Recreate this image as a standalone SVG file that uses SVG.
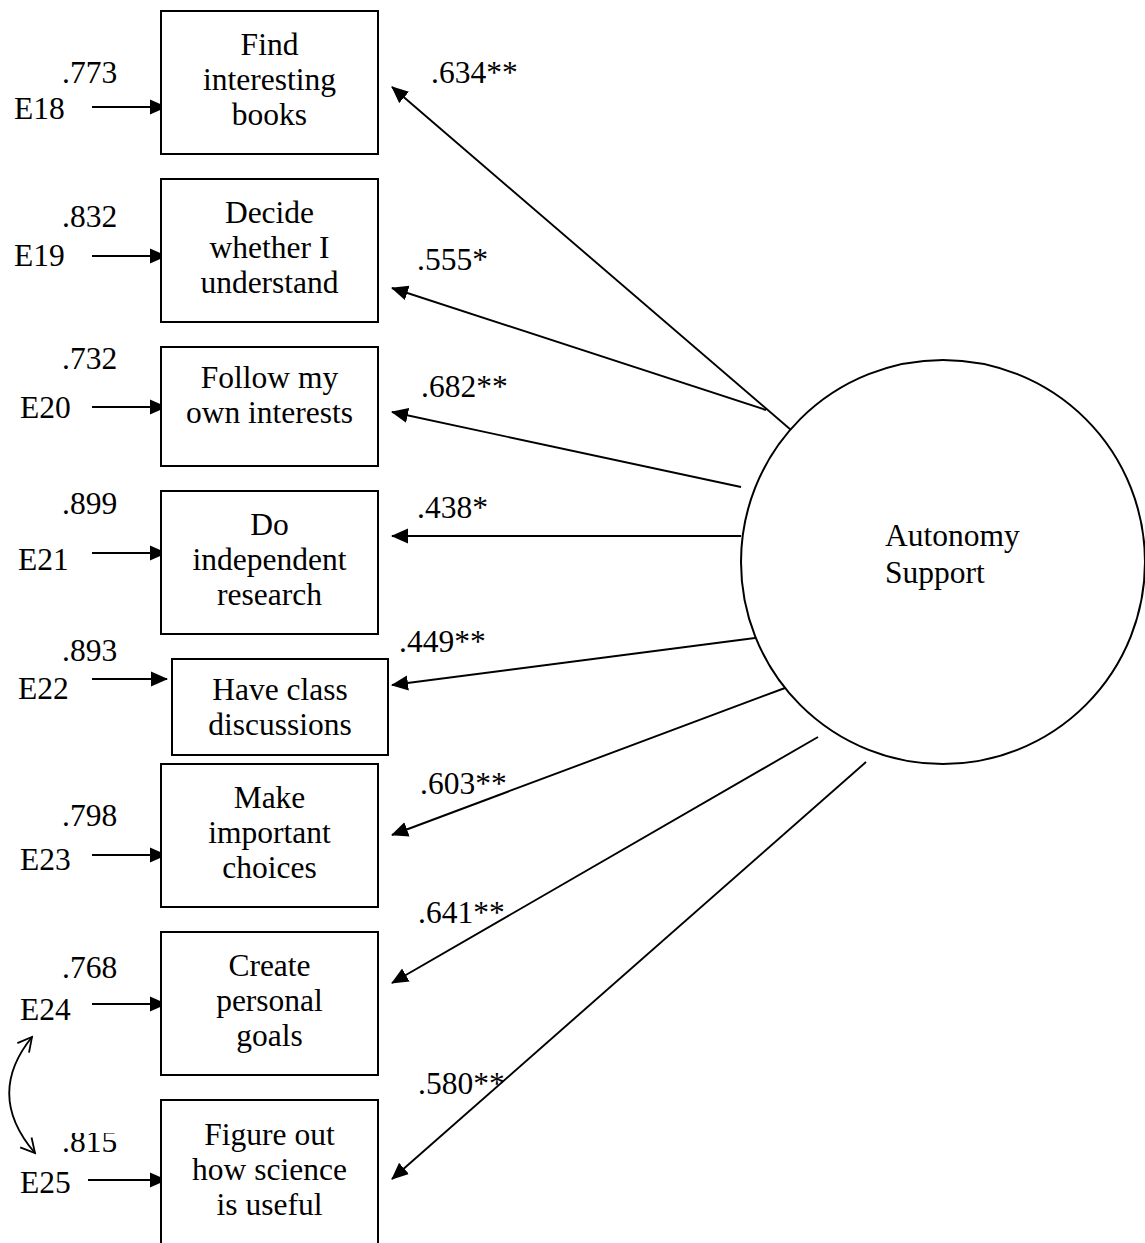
<svg xmlns="http://www.w3.org/2000/svg" width="1145" height="1243" viewBox="0 0 1145 1243">
  <style>
    text { font-family: "Liberation Serif", "Times New Roman", serif; font-size: 31.5px; fill: #000; }
    .mid { text-anchor: middle; }
    .box { fill: #fff; stroke: #000; stroke-width: 2; }
    .link { stroke: #000; stroke-width: 1.9; fill: none; marker-end: url(#head); }
    .cov { stroke: #000; stroke-width: 1.8; fill: none; marker-start: url(#open); marker-end: url(#open); }
    .latent { fill: #fff; stroke: #000; stroke-width: 2; }
  </style>
  <defs>
    <marker id="head" markerUnits="userSpaceOnUse" viewBox="0 -8 17 16" refX="16" refY="0" markerWidth="17" markerHeight="16" orient="auto">
      <path d="M0,-7.5 L17,0 L0,7.5 Z" fill="#000"/>
    </marker>
    <marker id="open" markerUnits="userSpaceOnUse" viewBox="-15 -9 17 18" refX="0" refY="0" markerWidth="17" markerHeight="18" orient="auto-start-reverse">
      <path d="M-14,-7.5 L0,0 L-14,7.5" fill="none" stroke="#000" stroke-width="1.8"/>
    </marker>
    <clipPath id="clip815">
      <rect x="50" y="1133" width="80" height="30"/>
    </clipPath>
  </defs>

  <!-- connectors: error terms, loadings, covariance -->
  <g id="connectors">
    <line class="link" x1="92" y1="107" x2="166" y2="107"/>
    <line class="link" x1="92" y1="256" x2="166" y2="256"/>
    <line class="link" x1="92" y1="407" x2="166" y2="407"/>
    <line class="link" x1="92" y1="553" x2="166" y2="553"/>
    <line class="link" x1="92" y1="679" x2="167" y2="679"/>
    <line class="link" x1="92" y1="855" x2="166" y2="855"/>
    <line class="link" x1="92" y1="1004" x2="166" y2="1004"/>
    <line class="link" x1="88" y1="1180" x2="166" y2="1180"/>

    <line class="link" x1="841" y1="473" x2="392" y2="87"/>
    <line class="link" x1="766" y1="410" x2="392" y2="288"/>
    <line class="link" x1="741" y1="487" x2="392" y2="412"/>
    <line class="link" x1="741" y1="536" x2="392" y2="536"/>
    <line class="link" x1="755" y1="638" x2="392" y2="685"/>
    <line class="link" x1="785" y1="688" x2="392" y2="835"/>
    <line class="link" x1="818" y1="737" x2="392" y2="983"/>
    <line class="link" x1="866" y1="762" x2="392" y2="1179"/>

    <path class="cov" d="M32,1037 Q-15,1095 35,1153"/>
  </g>

  <!-- latent factor -->
  <g id="autonomy-support">
    <circle class="latent" cx="943" cy="562" r="202"/>
    <text x="885" y="546">Autonomy</text>
    <text x="885" y="583">Support</text>
  </g>

  <!-- indicator items -->
  <g id="item-books">
    <rect class="box" x="161" y="11" width="217" height="143"/>
    <text class="mid" x="269.5" y="55">Find</text>
    <text class="mid" x="269.5" y="90">interesting</text>
    <text class="mid" x="269.5" y="125">books</text>
  </g>
  <g id="item-understand">
    <rect class="box" x="161" y="179" width="217" height="143"/>
    <text class="mid" x="269.5" y="223">Decide</text>
    <text class="mid" x="269.5" y="258">whether I</text>
    <text class="mid" x="269.5" y="293">understand</text>
  </g>
  <g id="item-interests">
    <rect class="box" x="161" y="347" width="217" height="119"/>
    <text class="mid" x="269.5" y="388">Follow my</text>
    <text class="mid" x="269.5" y="423">own interests</text>
  </g>
  <g id="item-research">
    <rect class="box" x="161" y="491" width="217" height="143"/>
    <text class="mid" x="269.5" y="535">Do</text>
    <text class="mid" x="269.5" y="570">independent</text>
    <text class="mid" x="269.5" y="605">research</text>
  </g>
  <g id="item-discussions">
    <rect class="box" x="172" y="659" width="216" height="96"/>
    <text class="mid" x="280" y="700">Have class</text>
    <text class="mid" x="280" y="735">discussions</text>
  </g>
  <g id="item-choices">
    <rect class="box" x="161" y="764" width="217" height="143"/>
    <text class="mid" x="269.5" y="808">Make</text>
    <text class="mid" x="269.5" y="843">important</text>
    <text class="mid" x="269.5" y="878">choices</text>
  </g>
  <g id="item-goals">
    <rect class="box" x="161" y="932" width="217" height="143"/>
    <text class="mid" x="269.5" y="976">Create</text>
    <text class="mid" x="269.5" y="1011">personal</text>
    <text class="mid" x="269.5" y="1046">goals</text>
  </g>
  <g id="item-useful">
    <rect class="box" x="161" y="1100" width="217" height="160"/>
    <text class="mid" x="269.5" y="1145">Figure out</text>
    <text class="mid" x="269.5" y="1180">how science</text>
    <text class="mid" x="269.5" y="1215">is useful</text>
  </g>

  <!-- error terms and their values -->
  <g id="errors">
    <text x="14" y="119">E18</text>
    <text x="62" y="83">.773</text>
    <text x="14" y="266">E19</text>
    <text x="62" y="227">.832</text>
    <text x="20" y="418">E20</text>
    <text x="62" y="369">.732</text>
    <text x="18" y="570">E21</text>
    <text x="62" y="514">.899</text>
    <text x="18" y="699">E22</text>
    <text x="62" y="661">.893</text>
    <text x="20" y="870">E23</text>
    <text x="62" y="826">.798</text>
    <text x="20" y="1020">E24</text>
    <text x="62" y="978">.768</text>
    <text x="20" y="1193">E25</text>
    <text x="62" y="1152" clip-path="url(#clip815)">.815</text>
  </g>

  <!-- loading values -->
  <g id="loadings">
    <text x="431" y="83">.634**</text>
    <text x="417" y="270">.555*</text>
    <text x="421" y="397">.682**</text>
    <text x="417" y="518">.438*</text>
    <text x="399" y="652">.449**</text>
    <text x="420" y="794">.603**</text>
    <text x="418" y="923">.641**</text>
    <text x="418" y="1094">.580**</text>
  </g>
</svg>
